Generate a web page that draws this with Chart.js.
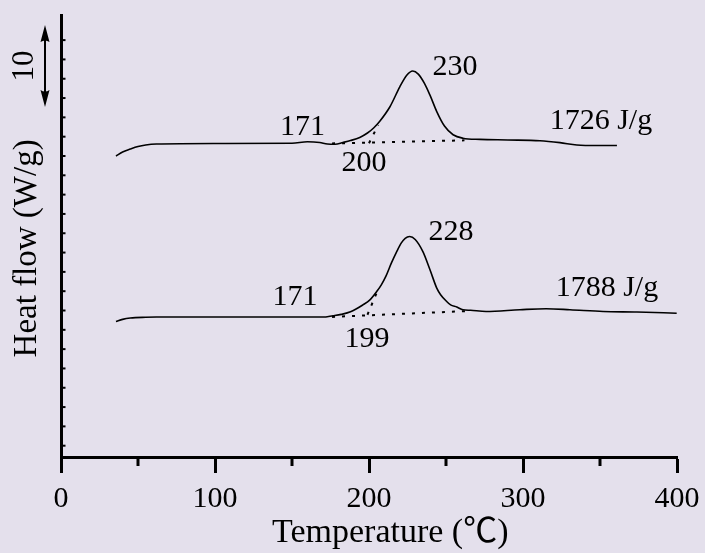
<!DOCTYPE html>
<html>
<head>
<meta charset="utf-8">
<script src="https://cdn.jsdelivr.net/npm/chart.js@4.4.1/dist/chart.umd.min.js"></script>
<style>
  html, body { margin: 0; padding: 0; background: #e4e0ec; }
  #wrap { width: 705px; height: 553px; }
</style>
</head>
<body>
<div id="wrap"><canvas id="dsc" width="705" height="553"></canvas></div>
<script>
// Temperature (°C) / heat flow (arbitrary, 1 unit = 1 axis tick)
const upperT = [35.7, 40, 45, 50, 55, 62, 100, 150, 160, 168, 173, 178, 183, 188, 194, 199, 203, 207, 213.6, 220, 224.5, 228.4, 232, 236, 239.6, 244, 249, 254.6, 261, 272, 290, 311, 324, 335, 348, 361];
const upperV = [15.00, 15.21, 15.36, 15.49, 15.57, 15.62, 15.65, 15.66, 15.74, 15.70, 15.62, 15.61, 15.70, 15.80, 15.96, 16.19, 16.45, 16.80, 17.55, 18.58, 19.18, 19.40, 19.24, 18.76, 18.15, 17.30, 16.55, 16.10, 15.92, 15.86, 15.83, 15.79, 15.69, 15.57, 15.54, 15.54];

const lowerT = [35.7, 40, 45, 55, 62, 100, 150, 170, 176.6, 182, 188, 196, 200.6, 205, 208, 211, 214.5, 218, 221, 223.5, 226.4, 230, 235, 239.6, 244, 246.5, 250.4, 253, 257, 261, 266, 276, 298, 315, 330.5, 352, 374, 399.8];
const lowerV = [6.43, 6.54, 6.61, 6.65, 6.66, 6.66, 6.66, 6.66, 6.73, 6.80, 6.93, 7.29, 7.55, 7.98, 8.33, 8.78, 9.45, 10.05, 10.50, 10.74, 10.83, 10.68, 10.05, 9.11, 8.16, 7.82, 7.47, 7.29, 7.18, 7.04, 7.01, 6.95, 7.04, 7.09, 7.04, 6.95, 6.92, 6.86];

// dotted baselines and onset tangents
const upperBaseT = [176, 262];
const upperBaseV = [15.65, 15.81];
const upperTanT = [200, 206];
const upperTanV = [15.66, 16.61];
const lowerBaseT = [176, 266];
const lowerBaseV = [6.67, 6.98];
const lowerTanT = [199, 205.5];
const lowerTanV = [6.78, 8.02];

// peak labels
const noteText = ['230', '171', '200', '1726 J/g', '228', '171', '199', '1788 J/g'];
const noteT = [255.8, 156.8, 196.8, 350.6, 253.2, 152, 198.7, 354.5];
const noteV = [19.61, 16.48, 14.64, 16.81, 11.07, 7.71, 5.54, 8.15];

const xTicks = [0, 100, 200, 300, 400];
const xMinorTicks = [50, 150, 250, 350];
const scaleBarText = '10';
const scaleBarV = [21.78, 17.54];

const serif = "'Liberation Serif', 'Times New Roman', 'Noto Sans CJK SC', serif";

function pts(xs, ys) {
    return xs.map((x, i) => ({ x: x, y: ys[i] }));
}

function curve(xs, ys) {
    return {
        data: pts(xs, ys),
        borderColor: '#000',
        borderWidth: 1.6,
        pointRadius: 0,
        cubicInterpolationMode: 'monotone',
        fill: false
    };
}

function dotted(xs, ys) {
    return {
        data: pts(xs, ys),
        borderColor: '#000',
        borderWidth: 2,
        borderDash: [3, 7],
        pointRadius: 0,
        tension: 0,
        fill: false
    };
}

const extras = {
    id: 'extras',
    afterDraw(chart) {
        const ctx = chart.ctx;
        const x = chart.scales.x, y = chart.scales.y;
        const area = chart.chartArea;
        ctx.save();
        ctx.strokeStyle = '#000';
        ctx.fillStyle = '#000';

        // minor ticks on x
        ctx.lineWidth = 3;
        xMinorTicks.forEach(t => {
            const px = x.getPixelForValue(t);
            ctx.beginPath();
            ctx.moveTo(px, area.bottom);
            ctx.lineTo(px, area.bottom + 9);
            ctx.stroke();
        });

        // inner ticks on y
        ctx.lineWidth = 2;
        for (let v = Math.ceil(y.min); v <= y.max - 1; v++) {
            const py = y.getPixelForValue(v);
            ctx.beginPath();
            ctx.moveTo(area.left, py);
            ctx.lineTo(area.left + 4.5, py);
            ctx.stroke();
        }

        // 10 W/g scale bar
        const ax = area.left - 16;
        const y1 = y.getPixelForValue(scaleBarV[0]);
        const y2 = y.getPixelForValue(scaleBarV[1]);
        ctx.lineWidth = 2;
        ctx.beginPath();
        ctx.moveTo(ax, y1 + 10);
        ctx.lineTo(ax, y2 - 10);
        ctx.stroke();
        [[y1, 1], [y2, -1]].forEach(([yy, d]) => {
            ctx.beginPath();
            ctx.moveTo(ax, yy);
            ctx.lineTo(ax + 4.5, yy + d * 17);
            ctx.quadraticCurveTo(ax, yy + d * 14, ax - 4.5, yy + d * 17);
            ctx.closePath();
            ctx.fill();
        });
        ctx.save();
        ctx.translate(area.left - 36, (y1 + y2) / 2);
        ctx.rotate(-Math.PI / 2);
        ctx.font = '31px ' + serif;
        ctx.textAlign = 'center';
        ctx.textBaseline = 'middle';
        ctx.fillText(scaleBarText, 0, 0);
        ctx.restore();

        // peak labels
        ctx.font = '30px ' + serif;
        ctx.textAlign = 'center';
        ctx.textBaseline = 'middle';
        noteText.forEach((s, i) => {
            ctx.fillText(s, x.getPixelForValue(noteT[i]), y.getPixelForValue(noteV[i]));
        });
        ctx.restore();
    }
};

new Chart(document.getElementById('dsc'), {
    type: 'line',
    data: {
        datasets: [
            curve(upperT, upperV),
            curve(lowerT, lowerV),
            dotted(upperBaseT, upperBaseV),
            dotted(upperTanT, upperTanV),
            dotted(lowerBaseT, lowerBaseV),
            dotted(lowerTanT, lowerTanV)
        ]
    },
    options: {
        responsive: false,
        animation: false,
        devicePixelRatio: 1,
        layout: { padding: { left: 0, right: 28, top: 15, bottom: 0 } },
        plugins: {
            legend: { display: false },
            tooltip: { enabled: false }
        },
        scales: {
            x: {
                type: 'linear',
                min: 0,
                max: 400,
                afterFit: s => {
                    s.height = 96;
                    s.paddingLeft = 0;
                    s.paddingRight = 0;
                },
                afterBuildTicks: s => { s.ticks = xTicks.map(v => ({ value: v })); },
                ticks: { color: '#000', font: { family: serif, size: 30 }, padding: 8, maxRotation: 0 },
                grid: { drawOnChartArea: false, drawTicks: true, tickLength: 16, tickWidth: 3, tickColor: '#000' },
                border: { color: '#000', width: 3 },
                title: {
                    display: true,
                    text: '\u00a0\u00a0\u00a0\u00a0\u00a0Temperature (℃)',
                    color: '#000',
                    font: { family: serif, size: 34 },
                    padding: { top: 0, bottom: 0 }
                }
            },
            y: {
                type: 'linear',
                min: -0.585,
                max: 22.3,
                afterFit: s => { s.width = 61; },
                ticks: { display: false, stepSize: 1 },
                grid: { display: false },
                border: { color: '#000', width: 3 },
                title: {
                    display: true,
                    text: 'Heat flow (W/g)\u00a0\u00a0\u00a0',
                    color: '#000',
                    font: { family: serif, size: 33 },
                    padding: { top: 8, bottom: 0 }
                }
            }
        }
    },
    plugins: [extras]
});
</script>
</body>
</html>
